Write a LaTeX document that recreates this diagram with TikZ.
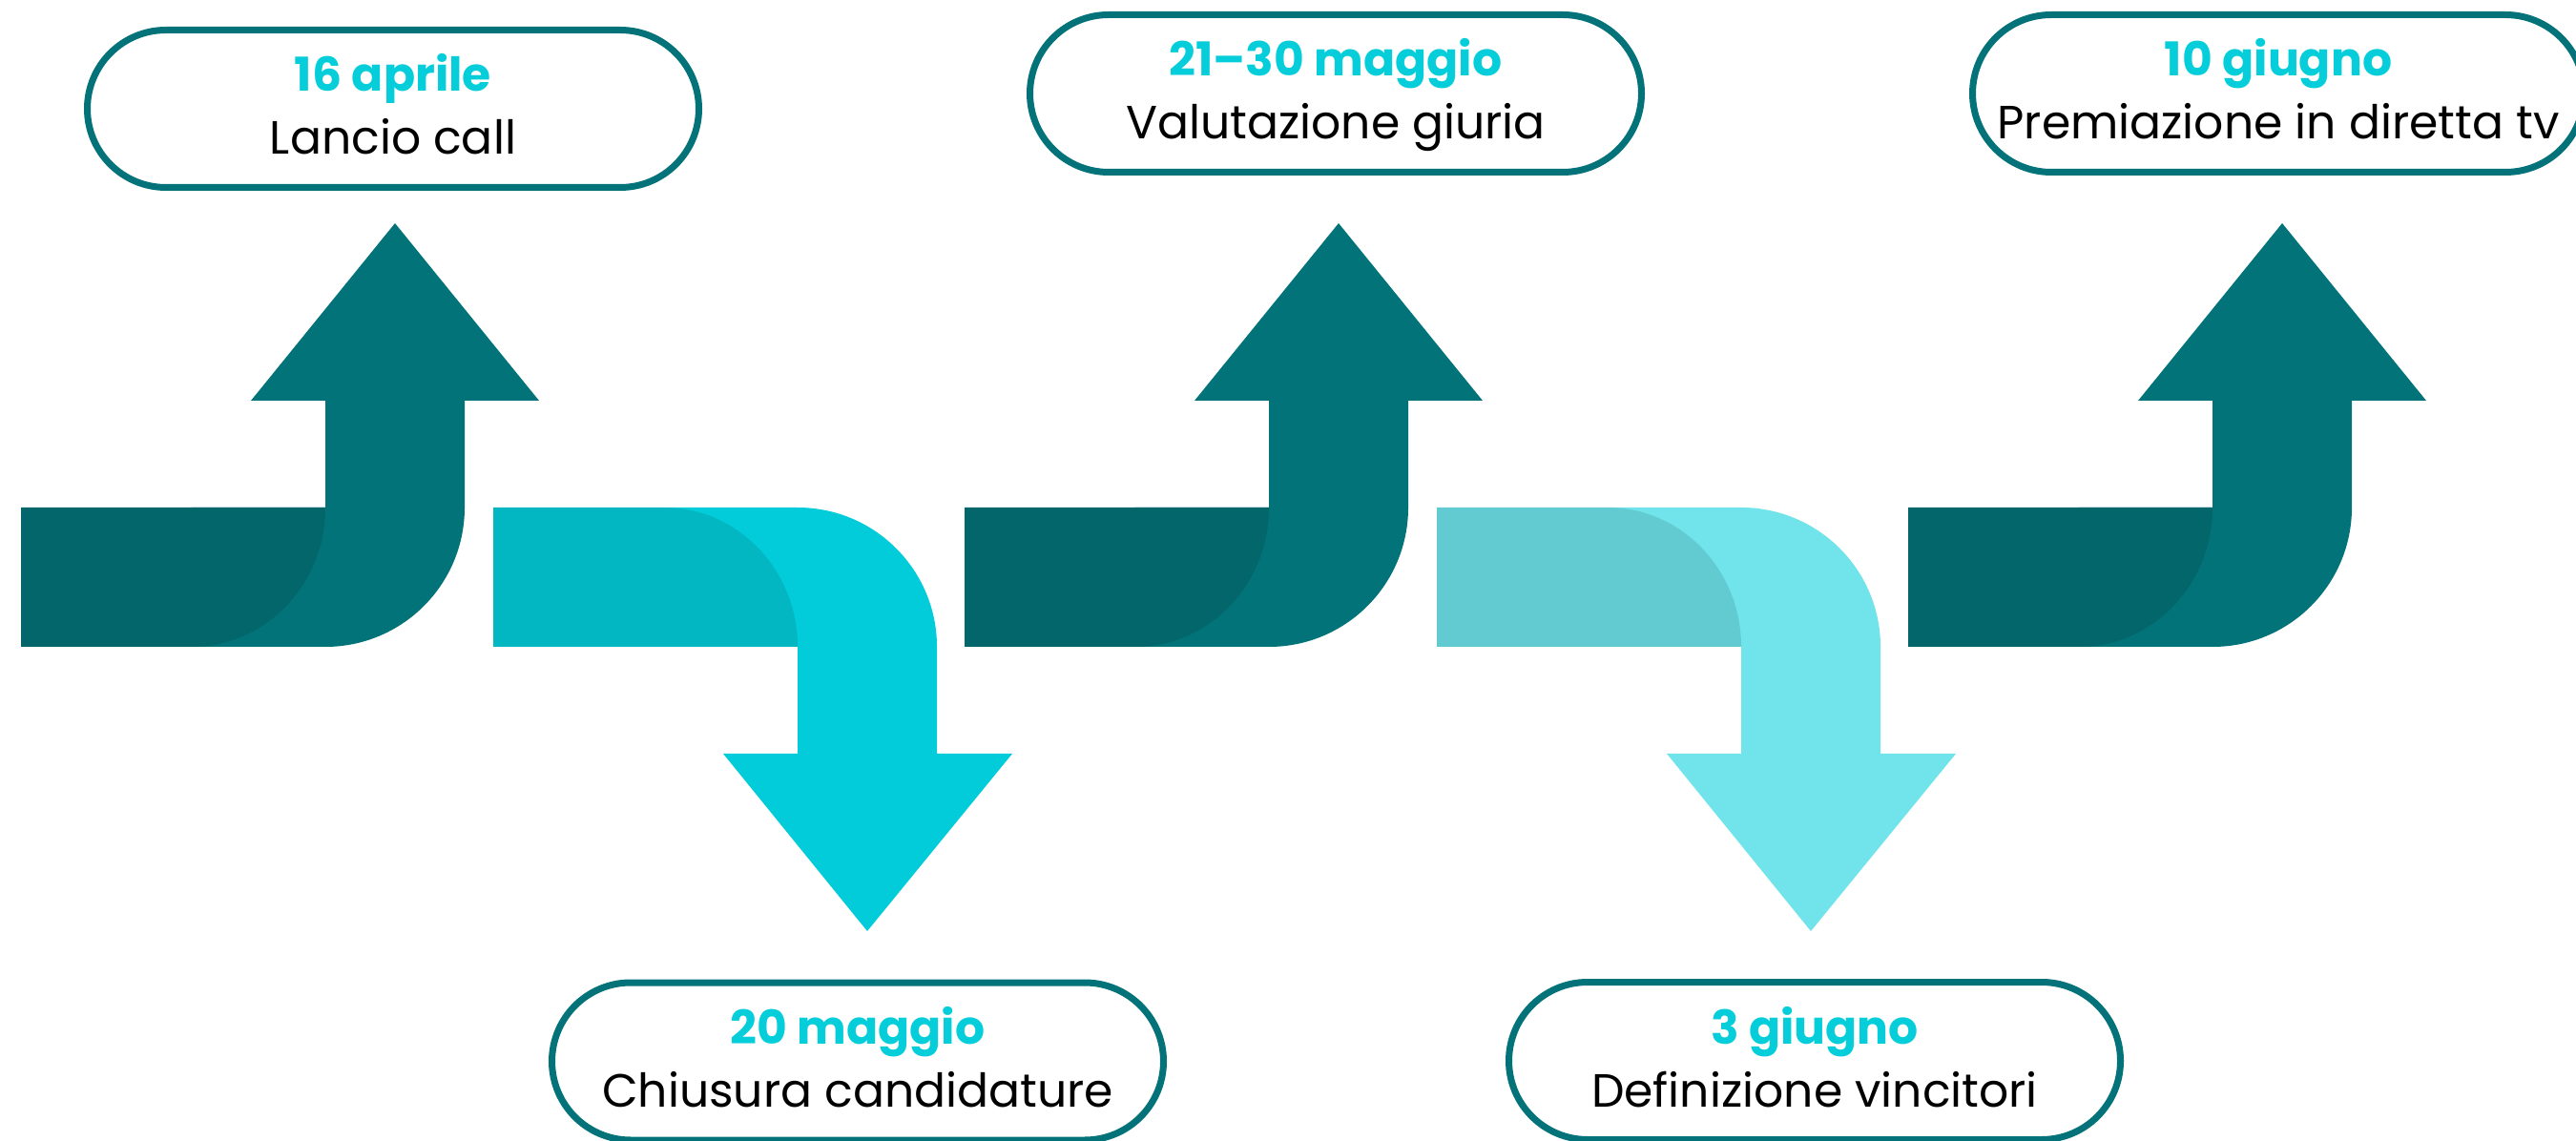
\documentclass[tikz,border=0pt]{standalone}
\usepackage{fontspec}
\usetikzlibrary{calc}
\setmainfont{Poppins}
\definecolor{tealdark}{HTML}{02666A}
\definecolor{tealmid}{HTML}{03737A}
\definecolor{cyandark}{HTML}{02B6C2}
\definecolor{cyanlight}{HTML}{03CCDA}
\definecolor{palecyandark}{HTML}{62CBD2}
\definecolor{palecyanlight}{HTML}{70E4EA}
\definecolor{boxc}{HTML}{047379}
\definecolor{datec}{HTML}{05CEDA}
\begin{document}
\begin{tikzpicture}[
  box/.style={draw=boxc, line width=0.07cm, fill=white, rounded corners=0.825cm,
    minimum width=6.41cm, minimum height=1.65cm, inner sep=0pt},
  datetxt/.style={anchor=base, inner sep=0pt, text=datec, font=\fontsize{13.9pt}{16pt}\selectfont\bfseries},
  lbltxt/.style={anchor=base, inner sep=0pt, text=black, font=\fontsize{13.9pt}{16pt}\selectfont},
]
\fill[white] (0,0) rectangle (27,11.95);
\useasboundingbox (0,0) rectangle (27,11.95);

% up arrows
\foreach \dx/\cm/\cd in {0/tealmid/tealdark, 9.89/tealmid/tealdark, 19.78/tealmid/tealdark}{
  \begin{scope}[xshift=\dx cm]
    \fill[\cm] (3.41,7.75) -- (2.63,7.75) -- (4.14,9.61) -- (5.65,7.75) -- (4.87,7.75)
      -- (4.87,6.63) arc[start angle=0,end angle=-90,radius=1.46]
      -- (2.01,5.17) -- (2.01,6.63) -- (3.41,6.63) -- cycle;
    \fill[\cd] (0.22,6.63) -- (3.41,6.63) arc[start angle=0,end angle=-90,x radius=1.40,y radius=1.46]
      -- (0.22,5.17) -- cycle;
  \end{scope}
}
% down arrows
\foreach \dx/\cl/\cd in {0/cyanlight/cyandark, 9.89/palecyanlight/palecyandark}{
  \begin{scope}[xshift=\dx cm]
    \fill[\cl] (6.96,6.63) -- (8.36,6.63) arc[start angle=90,end angle=0,radius=1.46]
      -- (9.82,4.05) -- (10.61,4.05) -- (9.09,2.19) -- (7.58,4.05) -- (8.36,4.05)
      -- (8.36,5.17) -- (6.96,5.17) -- cycle;
    \fill[\cd] (5.17,6.63) -- (6.96,6.63) arc[start angle=90,end angle=0,x radius=1.40,y radius=1.46]
      -- (5.17,5.17) -- cycle;
  \end{scope}
}

% boxes
\node[box] (b1) at (4.12,10.81) {};
\node[datetxt] (b1d) at ($(b1.center)+(0,0.18)$) {16 aprile};
\node[lbltxt] (b1l) at ($(b1.center)+(0,-0.48)$) {Lancio call};

\node[box] (b2) at (8.99,0.825) {};
\node[datetxt] (b2d) at ($(b2.center)+(0,0.18)$) {20 maggio};
\node[lbltxt] (b2l) at ($(b2.center)+(0,-0.48)$) {Chiusura candidature};

\node[box] (b3) at (14.00,10.97) {};
\node[datetxt] (b3d) at ($(b3.center)+(0,0.18)$) {21–30 maggio};
\node[lbltxt] (b3l) at ($(b3.center)+(0,-0.48)$) {Valutazione giuria};

\node[box] (b4) at (19.02,0.83) {};
\node[datetxt] (b4d) at ($(b4.center)+(0,0.18)$) {3 giugno};
\node[lbltxt] (b4l) at ($(b4.center)+(0,-0.48)$) {Definizione vincitori};

\node[box] (b5) at (23.88,10.97) {};
\node[datetxt] (b5d) at ($(b5.center)+(0,0.18)$) {10 giugno};
\node[lbltxt] (b5l) at ($(b5.center)+(0,-0.48)$) {Premiazione in diretta tv};
\end{tikzpicture}
\end{document}
